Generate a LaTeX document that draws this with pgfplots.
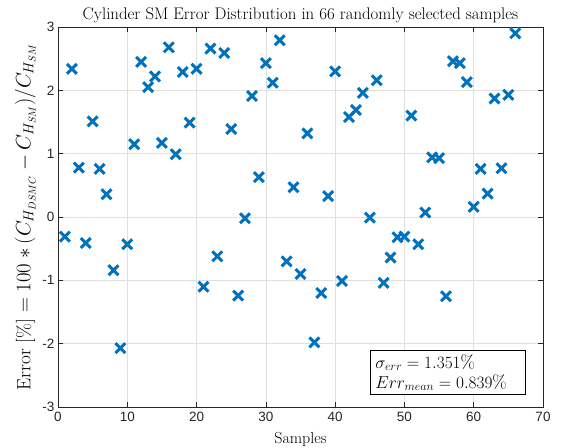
\documentclass[border=0pt]{standalone}
\usepackage{fontspec}
\setsansfont{Liberation Sans}
\usepackage{pgfplots}
\pgfplotsset{compat=1.18}
\definecolor{mblue}{RGB}{0,114,189}
\definecolor{mgrid}{RGB}{223,223,223}
\definecolor{maxis}{RGB}{38,38,38}
\begin{document}
\begin{tikzpicture}
\useasboundingbox (-58pt,-40pt) rectangle (503pt,407pt);
\begin{axis}[
  width=485pt, height=380pt, scale only axis,
  xmin=0, xmax=70, ymin=-3, ymax=3,
  xtick={0,10,...,70}, ytick={-3,-2,...,3},
  grid=major,
  major grid style={mgrid, line width=0.5pt},
  axis line style={maxis, line width=0.5pt},
  tick style={maxis, line width=0.5pt},
  major tick length=5pt,
  tick align=inside,
  tick label style={font=\sffamily\fontsize{13.5}{15}\selectfont, text=maxis},
  xticklabel style={yshift=-2pt},
  /pgf/number format/assume math mode=true,
  title={Cylinder SM Error Distribution in 66 randomly selected samples},
  title style={font=\fontsize{16.8}{19}\selectfont, yshift=-5pt},
  xlabel={Samples},
  xlabel style={font=\fontsize{16}{18}\selectfont, yshift=-3pt},
  ylabel={Error [\%] $= 100*(C_{H_{DSMC}} - C_{H_{SM}})/C_{H_{SM}}$},
  ylabel style={font=\fontsize{19.2}{21}\selectfont, yshift=0pt},
]
\addplot[only marks, mark=x, mark size=7pt, mblue, line width=3pt] coordinates {
(1,-0.31) (2,2.34) (3,0.78) (4,-0.41) (5,1.51) (6,0.76) (7,0.36) (8,-0.84)
(9,-2.07) (10,-0.43) (11,1.15) (12,2.45) (13,2.05) (14,2.22) (15,1.17) (16,2.68)
(17,0.99) (18,2.29) (19,1.49) (20,2.34) (21,-1.10) (22,2.66) (23,-0.62) (24,2.59)
(25,1.39) (26,-1.24) (27,-0.02) (28,1.91) (29,0.63) (30,2.43) (31,2.12) (32,2.79)
(33,-0.70) (34,0.47) (35,-0.90) (36,1.32) (37,-1.98) (38,-1.20) (39,0.33) (40,2.30)
(41,-1.01) (42,1.58) (43,1.69) (44,1.96) (45,-0.01) (46,2.16) (47,-1.04) (48,-0.64)
(49,-0.32) (50,-0.31) (51,1.60) (52,-0.43) (53,0.07) (54,0.94) (55,0.93) (56,-1.25)
(57,2.46) (58,2.43) (59,2.13) (60,0.16) (61,0.76) (62,0.37) (63,1.87) (64,0.77)
(65,1.93) (66,2.90)
};
\node[draw=black, fill=white, line width=0.6pt, anchor=south east, align=left,
      text width=145pt, inner xsep=5pt, inner ysep=4pt,
      font=\fontsize{18.5}{20}\selectfont]
  at (axis cs:67.5,-2.81)
  {$\sigma_{err} = 1.351\%$\\[0pt]$Err_{mean} = 0.839\%$};
\end{axis}
\end{tikzpicture}
\end{document}
